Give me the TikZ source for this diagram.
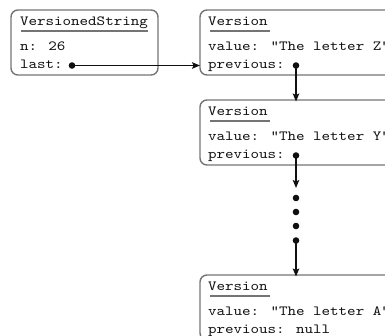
\documentclass[tikz,border=0pt]{standalone}
\usepackage{fontspec}
\usetikzlibrary{arrows.meta}
\newfontfamily\codefont{lmmono10-regular.otf}[FakeStretch=1.16]
\definecolor{ink}{HTML}{101010}
\definecolor{boxgray}{HTML}{747474}
\tikzset{
  objbox/.style={draw=boxgray, line width=1.4pt, rounded corners=7pt, inner sep=0pt, outer sep=0pt, anchor=north west},
  txt/.style={anchor=base west, inner sep=0pt, outer sep=0pt, font=\fontsize{14}{16}\codefont, text=ink},
  uline/.style={draw=boxgray, line width=1.6pt},
  dotn/.style={circle, fill=ink, inner sep=0pt, outer sep=0pt, minimum size=6.6pt},
  arr/.style={draw=ink, line width=1.5pt, -{Stealth[length=8pt,width=6.5pt,inset=1.5pt]}}
}
\begin{document}
\begin{tikzpicture}[x=1pt,y=-1pt]
\useasboundingbox (0,0) rectangle (385,335);
\clip (0,0) rectangle (385,335);
% boxes
\node[objbox, minimum width=147pt, minimum height=65pt] (vs) at (11,10) {};
\node[objbox, minimum width=220pt, minimum height=65pt] (v1) at (200,10) {};
\node[objbox, minimum width=220pt, minimum height=65pt] (v2) at (200,100) {};
\node[objbox, minimum width=220pt, minimum height=65pt] (v3) at (200,275) {};
% VersionedString
\node[txt] (t0) at (20,25.5) {VersionedString};
\draw[uline] ([shift={(0.5,5.5)}]t0.base west) -- ([shift={(0.5,5.5)}]t0.base east);
\node[txt] (n0) at (20,50) {n: 26};
\node[txt] (l0) at (20,68.5) {last:};
\node[dotn] (d1) at (72,65.5) {};
% Version Z
\node[txt] (t1) at (208,25.5) {Version};
\draw[uline] ([shift={(2,5.5)}]t1.base west) -- ([shift={(2,5.5)}]t1.base east);
\node[txt] (a1) at (208,50) {value: "The letter Z"};
\node[txt] (p1) at (208,68.5) {previous:};
\node[dotn] (d2) at (296,65.5) {};
% Version Y
\node[txt] (t2) at (208,115.5) {Version};
\draw[uline] ([shift={(2,5.5)}]t2.base west) -- ([shift={(2,5.5)}]t2.base east);
\node[txt] (a2) at (208,140) {value: "The letter Y"};
\node[txt] (p2) at (208,158.5) {previous:};
\node[dotn] (d3) at (296,155.5) {};
% ellipsis dots
\coordinate (c1) at (296,188);
\node[dotn] (e1) at (296,198) {};
\node[dotn] (e2) at (296,212) {};
\node[dotn] (e3) at (296,226) {};
\node[dotn] (e4) at (296,240.5) {};
% Version A
\node[txt] (t3) at (208,290.5) {Version};
\draw[uline] ([shift={(2,5.5)}]t3.base west) -- ([shift={(2,5.5)}]t3.base east);
\node[txt] (a3) at (208,315) {value: "The letter A"};
\node[txt] (p3) at (208,333.5) {previous: null};
% connectors
\draw[arr] (d1.center) -- (d1.center -| v1.west);
\draw[arr] (d2.center) -- ([yshift=-1.5pt]d2.center |- v2.north);
\draw[arr] (d3.center) -- (c1);
\draw[arr] (e4.center) -- ([yshift=-1.5pt]e4.center |- v3.north);
\end{tikzpicture}
\end{document}
